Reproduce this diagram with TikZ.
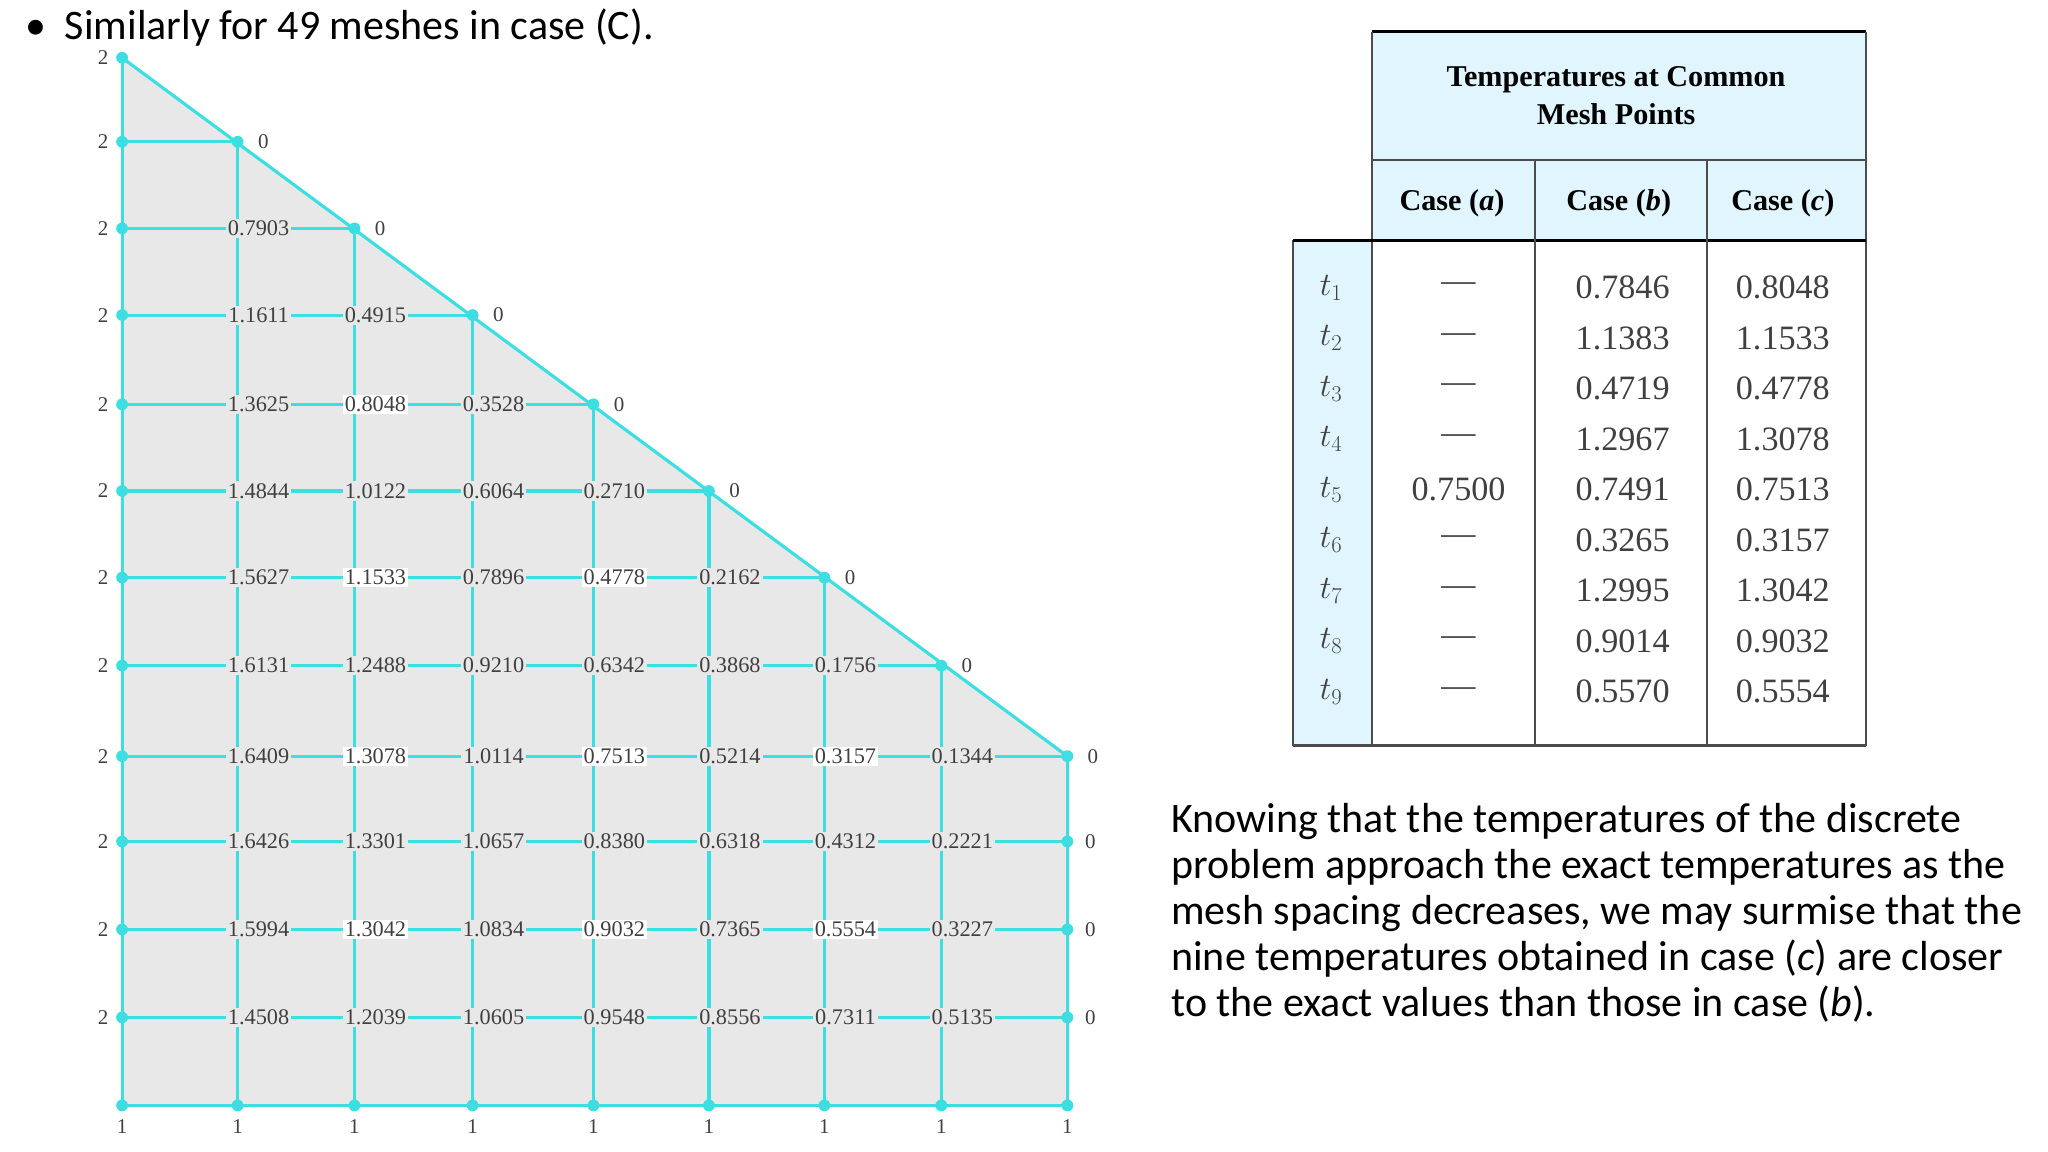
\documentclass[tikz,border=0pt]{standalone}
\usepackage{fontspec}
\setmainfont{Liberation Serif}
\newfontfamily\calib{Carlito}
\definecolor{mesh}{RGB}{60,222,226}
\begin{document}
\begin{tikzpicture}[x=1pt,y=-1pt,
  meshline/.style={draw=mesh, line width=2.4pt},
  dotn/.style={circle, fill=mesh, inner sep=0pt, minimum size=9pt},
  bnum/.style={font=\fontsize{16}{16}\selectfont, text=black!75},
  v/.style={font=\fontsize{17}{17}\selectfont, text=black!75, fill=gray!18, inner sep=1.5pt},
  w/.style={v, fill=white},
  tcell/.style={font=\fontsize{26}{26}\selectfont, text=black!75},
  thead/.style={font=\bfseries\fontsize{23}{29}\selectfont, align=center}]
\useasboundingbox (0,0) rectangle (1560,877.5);
\def\XS{{93,181,270,360,452,540,628,717,813}}
\def\YS{{44,108,174,240,308,374,440,507,576,641,708,775,842}}
% title
\node[anchor=west, font=\calib\fontsize{32}{32}\selectfont] (title) at (16,21) {\textbullet\hspace{14pt}Similarly for 49 meshes in case (C).};
% gray region
\fill[gray!18] (93,44) -- (813,576) -- (813,842) -- (93,842) -- cycle;
% coordinates
\foreach \i in {0,...,12}{
  \foreach \j in {0,...,8}{
    \pgfmathsetmacro\xx{\XS[\j]}
    \pgfmathsetmacro\yy{\YS[\i]}
    \coordinate (n-\i-\j) at (\xx,\yy);
  }
}
% horizontal lines
\foreach \i in {1,...,12}{
  \pgfmathtruncatemacro\m{min(\i,8)}
  \draw[meshline] (n-\i-0) -- (n-\i-\m);
}
% vertical lines
\draw[meshline] (n-0-0) -- (n-12-0);
\foreach \j in {1,...,8}{
  \draw[meshline] (n-\j-\j) -- (n-12-\j);
}
\draw[meshline] (n-0-0) -- (n-8-8);
% boundary dots and labels
\foreach \i in {0,...,11}{
  \node[dotn] (dl-\i) at (n-\i-0) {};
  \node[bnum, anchor=east] (two-\i) at ([xshift=-7pt]n-\i-0) {2};
}
\foreach \i in {1,...,8}{
  \node[dotn] (dd-\i) at (n-\i-\i) {};
  \node[bnum, anchor=west] (zd-\i) at ([xshift=12pt]n-\i-\i) {0};
}
\foreach \i in {9,10,11}{
  \node[dotn] (dr-\i) at (n-\i-8) {};
  \node[bnum, anchor=west] (zr-\i) at ([xshift=10pt]n-\i-8) {0};
}
\foreach \j in {0,...,8}{
  \node[dotn] (db-\j) at (n-12-\j) {};
  \node[bnum] (one-\j) at ([yshift=-16pt]n-12-\j) {1};
}
% interior values
\foreach \i/\vals in {
 2/{0.7903/v},
 3/{1.1611/v,0.4915/v},
 4/{1.3625/v,0.8048/w,0.3528/v},
 5/{1.4844/v,1.0122/v,0.6064/v,0.2710/v},
 6/{1.5627/v,1.1533/w,0.7896/v,0.4778/w,0.2162/v},
 7/{1.6131/v,1.2488/v,0.9210/v,0.6342/v,0.3868/v,0.1756/v},
 8/{1.6409/v,1.3078/w,1.0114/v,0.7513/w,0.5214/v,0.3157/w,0.1344/v},
 9/{1.6426/v,1.3301/v,1.0657/v,0.8380/v,0.6318/v,0.4312/v,0.2221/v},
 10/{1.5994/v,1.3042/w,1.0834/v,0.9032/w,0.7365/v,0.5554/w,0.3227/v},
 11/{1.4508/v,1.2039/v,1.0605/v,0.9548/v,0.8556/v,0.7311/v,0.5135/v}}{
  \foreach \t/\s [count=\j] in \vals {
    \node[\s] (v-\i-\j) at ([xshift=16pt]n-\i-\j) {\t};
  }
}
% table
\fill[cyan!12] (1045,24) rectangle (1421,183);
\fill[cyan!12] (985,183) rectangle (1045,568);
\draw[line width=2.5pt] (1045,24) -- (1421,24);
\draw[line width=1.5pt, black!70] (1045,24) -- (1045,568);
\draw[line width=1.5pt, black!70] (1421,24) -- (1421,568);
\draw[line width=1.5pt, black!70] (985,183) -- (985,568);
\draw[line width=2pt, black!70] (1045,122) -- (1421,122);
\draw[line width=2.5pt] (985,183) -- (1421,183);
\draw[line width=1.5pt, black!70] (1169,122) -- (1169,568);
\draw[line width=1.5pt, black!70] (1300,122) -- (1300,568);
\draw[line width=2pt, black!70] (985,568) -- (1421,568);
\node[thead] (th) at (1231,73) {Temperatures at Common\\Mesh Points};
\node[thead] (ca) at (1106,155) {Case (\textit{a})};
\node[thead] (cb) at (1233,155) {Case (\textit{b})};
\node[thead] (cc) at (1358,155) {Case (\textit{c})};
\foreach \k/\a/\b/\c [count=\r from 0] in {1/---/0.7846/0.8048, 2/---/1.1383/1.1533, 3/---/0.4719/0.4778, 4/---/1.2967/1.3078, 5/0.7500/0.7491/0.7513, 6/---/0.3265/0.3157, 7/---/1.2995/1.3042, 8/---/0.9014/0.9032, 9/---/0.5570/0.5554}{
  \pgfmathsetmacro\ty{219+38.5*\r}
  \node[tcell] (tl-\k) at (1014,\ty) {$t_{\k}$};
  \node[tcell] (ta-\k) at (1111,\ty) {\a};
  \node[tcell] (tb-\k) at (1236,\ty) {\b};
  \node[tcell] (tc-\k) at (1358,\ty) {\c};
}
% paragraph
\node[anchor=north west, align=left, inner sep=0pt, font=\calib\fontsize{32}{35}\selectfont] (para) at (892,612) {Knowing that the temperatures of the discrete\\problem approach the exact temperatures as the\\mesh spacing decreases, we may surmise that the\\nine temperatures obtained in case (\textit{c}) are closer\\to the exact values than those in case (\textit{b}).};
\end{tikzpicture}
\end{document}
